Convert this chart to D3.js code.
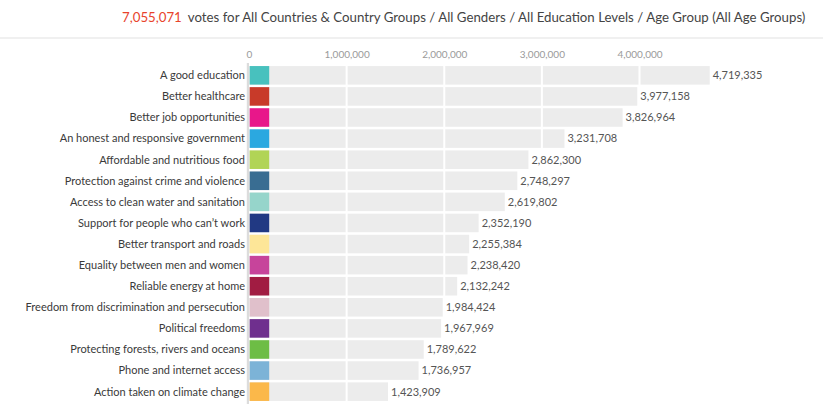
<!DOCTYPE html>
<html>
<head>
<meta charset="utf-8">
<script src="https://cdn.jsdelivr.net/npm/d3@7"></script>
<style>
  html, body { margin: 0; padding: 0; background: #fff; }
  svg { display: block; font-family: Lato, "Open Sans", sans-serif; }
</style>
</head>
<body>
<svg id="chart" width="823" height="419"></svg>
<script>
const totalVotes = 7055071;
const titleRest = "votes for All Countries & Country Groups / All Genders / All Education Levels / Age Group (All Age Groups)";
const categories = [
  "A good education",
  "Better healthcare",
  "Better job opportunities",
  "An honest and responsive government",
  "Affordable and nutritious food",
  "Protection against crime and violence",
  "Access to clean water and sanitation",
  "Support for people who can\u2019t work",
  "Better transport and roads",
  "Equality between men and women",
  "Reliable energy at home",
  "Freedom from discrimination and persecution",
  "Political freedoms",
  "Protecting forests, rivers and oceans",
  "Phone and internet access",
  "Action taken on climate change"
];
const votes = [4719335, 3977158, 3826964, 3231708, 2862300, 2748297, 2619802, 2352190,
               2255384, 2238420, 2132242, 1984424, 1967969, 1789622, 1736957, 1423909];
const colors = ["#48c1be", "#c83a29", "#e8178a", "#2ba8e0", "#b1d456", "#396d92", "#96d5cb", "#213983",
                "#fde698", "#c7449b", "#a11c42", "#e0c0cb", "#6f2f8e", "#6dbd45", "#7cb3d7", "#fbb84a"];
const tickValues = [0, 1000000, 2000000, 3000000, 4000000];

const svg = d3.select("#chart");
const fmt = d3.format(",");

// header
const title = svg.append("text").attr("x", 122).attr("y", 22).style("font-size", "13.25px");
title.append("tspan").attr("fill", "#e8432c").text(fmt(totalVotes));
title.append("tspan").attr("fill", "#444").attr("dx", 6).text(titleRest);
svg.append("rect").attr("x", 0).attr("y", 37).attr("width", 823).attr("height", 2).attr("fill", "#f0f0f0");

const x = d3.scaleLinear().domain([0, 4000000]).range([249, 639.5]);
const y = d3.scaleBand().domain(categories).range([65, 402]).paddingInner(0.12).paddingOuter(0.05);

// background bars
svg.append("g").selectAll("rect").data(categories).join("rect")
  .attr("x", x(0))
  .attr("y", d => y(d))
  .attr("width", (d, i) => x(votes[i]) - x(0))
  .attr("height", y.bandwidth())
  .attr("fill", "#ececec");

// gridlines (white over bars)
svg.append("g").selectAll("line").data(tickValues.slice(1)).join("line")
  .attr("x1", d => x(d)).attr("x2", d => x(d))
  .attr("y1", 63).attr("y2", 404)
  .attr("stroke", "#fff").attr("stroke-width", 2);

// colored squares
svg.append("g").selectAll("rect").data(categories).join("rect")
  .attr("x", x(0) + 0.7)
  .attr("y", d => y(d))
  .attr("width", 19.5)
  .attr("height", y.bandwidth())
  .attr("fill", (d, i) => colors[i]);

// axis line
svg.append("rect").attr("x", 246.8).attr("y", 63).attr("width", 2.2).attr("height", 341).attr("fill", "#dcdcdc");

// top axis
const axis = d3.axisTop(x).tickValues(tickValues).tickFormat(fmt).tickSize(0).tickPadding(0);
const ag = svg.append("g").attr("transform", "translate(0,58)").call(axis);
ag.select(".domain").remove();
ag.selectAll("text").attr("fill", "#9a9a9a").style("font-size", "10px").style("font-family", "Lato, sans-serif").attr("dy", 0);

// category labels
svg.append("g").selectAll("text").data(categories).join("text")
  .attr("x", 245)
  .attr("y", d => y(d) + y.bandwidth() / 2)
  .attr("dy", "0.35em")
  .attr("text-anchor", "end")
  .attr("fill", "#3a3a3a")
  .style("font-size", "11px")
  .text(d => d);

// value labels
svg.append("g").selectAll("text").data(categories).join("text")
  .attr("x", (d, i) => x(votes[i]) + 3)
  .attr("y", d => y(d) + y.bandwidth() / 2)
  .attr("dy", "0.35em")
  .attr("fill", "#555")
  .style("font-size", "11px")
  .text((d, i) => fmt(votes[i]));
</script>
</body>
</html>
